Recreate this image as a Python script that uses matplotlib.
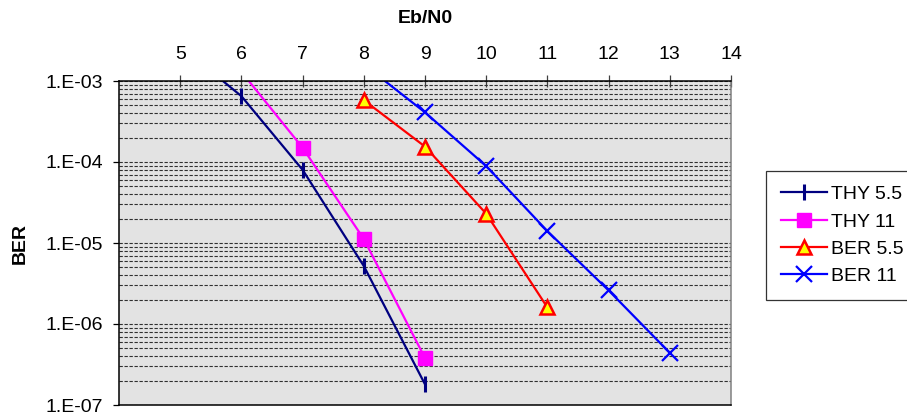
import matplotlib as mpl
import matplotlib.pyplot as plt
import numpy as np

# Data
ebn0_thy55 = [5, 6, 7, 8, 9]
ber_thy55 = [2.7e-3, 6.5e-4, 8.0e-5, 5.2e-6, 1.8e-7]

ebn0_thy11 = [6, 7, 8, 9]
ber_thy11 = [1.3e-3, 1.5e-4, 1.12e-5, 3.8e-7]

ebn0_ber55 = [8, 9, 10, 11]
ber_ber55 = [5.8e-4, 1.55e-4, 2.3e-5, 1.6e-6]

ebn0_ber11 = [8, 9, 10, 11, 12, 13]
ber_ber11 = [1.6e-3, 4.1e-4, 8.9e-5, 1.4e-5, 2.6e-6, 4.4e-7]

x_ticks = [5, 6, 7, 8, 9, 10, 11, 12, 13, 14]
y_ticks = [1e-3, 1e-4, 1e-5, 1e-6, 1e-7]
y_ticklabels = ['1.E-03', '1.E-04', '1.E-05', '1.E-06', '1.E-07']

plt.rcParams['font.family'] = ['Liberation Sans', 'DejaVu Sans']

fig = plt.figure(figsize=(9.07, 4.18), dpi=100)
left, bottom, width, height = [119/907, 13/418, 612/907, 324/418]
ax = fig.add_axes([left, bottom, width, height])
ax.set_facecolor('#e3e3e3')

thicc = 1.6
ax.plot(ebn0_thy55, ber_thy55, color='#000080', lw=thicc, marker='|',
        markersize=11, markeredgewidth=2.2, label='THY 5.5')
ax.plot(ebn0_thy11, ber_thy11, color='#ff00ff', lw=thicc, marker='s',
        markersize=10, label='THY 11')
ax.plot(ebn0_ber55, ber_ber55, color='#ff0000', lw=thicc, marker='^',
        markersize=10, markerfacecolor='#ffff00', markeredgecolor='#ff0000',
        markeredgewidth=1.8, label='BER 5.5')
ax.plot(ebn0_ber11, ber_ber11, color='#0000ff', lw=thicc, marker='x',
        markersize=11, markeredgewidth=1.6, label='BER 11')

ax.set_yscale('log')
ax.set_xlim(4, 14)
ax.set_ylim(1e-7, 1e-3)

# x axis on top, Excel style
ax.xaxis.tick_top()
ax.xaxis.set_label_position('top')
ax.set_xticks(x_ticks)
ax.set_xticklabels([str(v) for v in x_ticks], fontsize=14)
ax.xaxis.set_tick_params(which='major', length=8.5, width=0.9, direction='inout',
                         pad=9, color='#404040')
ax.set_xlabel('Eb/N0', fontsize=14, fontweight='bold', labelpad=16)

ax.set_yticks(y_ticks)
ax.set_yticklabels(y_ticklabels, fontsize=14)
ax.yaxis.set_minor_locator(mpl.ticker.LogLocator(base=10, subs=np.arange(2, 10)))
ax.yaxis.set_minor_formatter(mpl.ticker.NullFormatter())
ax.yaxis.set_tick_params(which='major', length=4.5, width=0.9, direction='out', pad=7)
ax.yaxis.set_tick_params(which='minor', length=0)
ax.set_ylabel('BER', fontsize=14, fontweight='bold', labelpad=12)

ax.grid(True, axis='y', which='both', color='#303030', linestyle=(0, (3, 1.5)),
        linewidth=0.8)
ax.set_axisbelow(True)

for side in ['top', 'bottom', 'left']:
    ax.spines[side].set_color('black')
    ax.spines[side].set_linewidth(1.1)
ax.spines['right'].set_color('#808080')
ax.spines['right'].set_linewidth(1.1)

leg = fig.legend(loc='upper left', bbox_to_anchor=(766/907, 1 - 171/418),
                 borderaxespad=0, fontsize=14, frameon=True, fancybox=False,
                 edgecolor='black', handlelength=2.4, handletextpad=0.2,
                 labelspacing=0.5, borderpad=0.75)
leg.get_frame().set_linewidth(0.9)

plt.savefig('out.png', dpi=100)
